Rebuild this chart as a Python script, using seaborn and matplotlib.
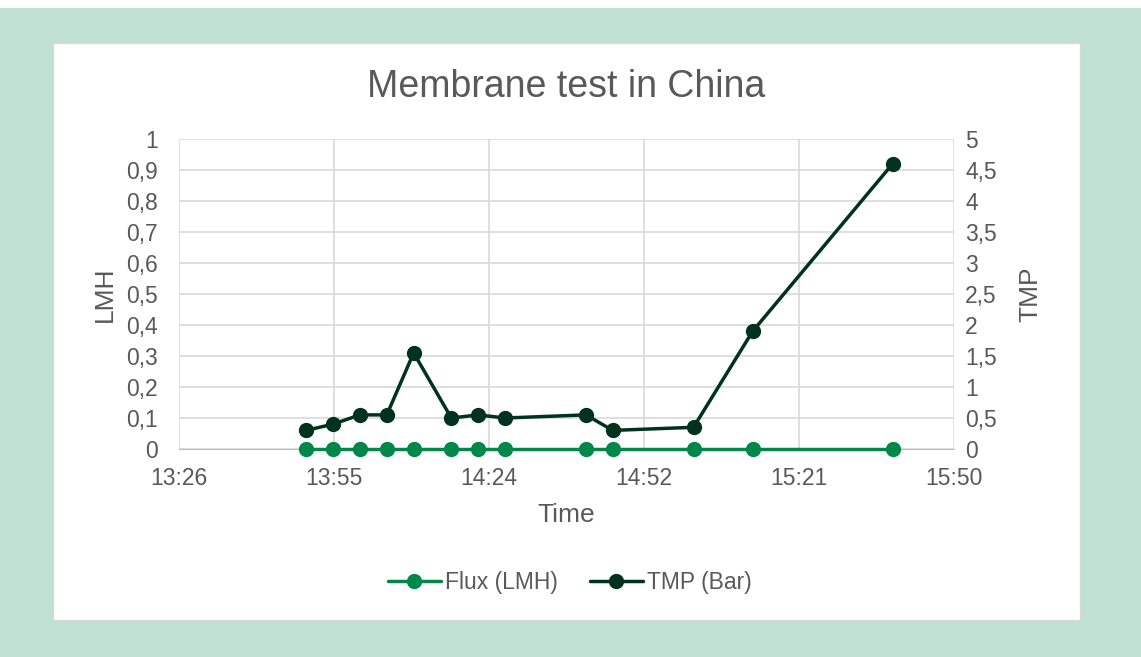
import matplotlib.pyplot as plt
import matplotlib.patches as mpatches
from matplotlib.lines import Line2D
import pandas as pd
import seaborn as sns

# Data
times = ['13:50', '13:55', '14:00', '14:05', '14:10', '14:17', '14:22', '14:27',
         '14:42', '14:47', '15:02', '15:13', '15:39']
flux = [0, 0, 0, 0, 0, 0, 0, 0, 0, 0, 0, 0, 0]
tmp = [0.3, 0.4, 0.55, 0.55, 1.55, 0.5, 0.55, 0.5, 0.55, 0.3, 0.35, 1.9, 4.6]
x_ticks = [0.56, 0.58, 0.60, 0.62, 0.64, 0.66]
x_ticklabels = ['13:26', '13:55', '14:24', '14:52', '15:21', '15:50']

def to_day(t):
    h, m = t.split(':')
    return (int(h) * 60 + int(m)) / 1440

df = pd.DataFrame({'day': [to_day(t) for t in times], 'flux': flux, 'tmp': tmp})

sns.set_style('white')
plt.rcParams['font.family'] = ['Liberation Sans', 'DejaVu Sans']
text_col = '#595959'
grid_col = '#D9D9D9'
flux_col = '#00884A'
tmp_col = '#00321F'

fig = plt.figure(figsize=(11.41, 6.57), dpi=100)
# outer green frame and white chart area
fig.patches.append(mpatches.Rectangle((0, 0), 1, 1 - 8 / 657, transform=fig.transFigure,
                                      facecolor='#BFE0D2', edgecolor='none', zorder=-10))
fig.patches.append(mpatches.Rectangle((53 / 1141, 1 - 620 / 657), 1027 / 1141, 577 / 657,
                                      transform=fig.transFigure, facecolor='white',
                                      edgecolor='#D9D9D9', linewidth=1, zorder=-9))

ax = fig.add_axes([179 / 1141, 1 - 449 / 657, 775 / 1141, 310 / 657])
ax.patch.set_alpha(0)
ax2 = ax.twinx()

sns.lineplot(data=df, x='day', y='flux', ax=ax, color=flux_col, marker='o',
             markersize=11, markeredgewidth=0, linewidth=2.5, zorder=3, clip_on=False)
sns.lineplot(data=df, x='day', y='tmp', ax=ax2, color=tmp_col, marker='o',
             markersize=11, markeredgewidth=0, linewidth=2.5, zorder=3, clip_on=False)

ax.set_xlim(0.56, 0.66)
ax.set_ylim(0, 1)
ax2.set_ylim(0, 5)
ax.set_xticks(x_ticks)
ax.set_xticklabels(x_ticklabels)
ax.set_yticks([i / 10 for i in range(11)])
ax.set_yticklabels([('%.1f' % (i / 10)).replace('.', ',') if i not in (0, 10) else str(i // 10)
                    for i in range(11)])
ax2.set_yticks([i / 2 for i in range(11)])
ax2.set_yticklabels([('%g' % (i / 2)).replace('.', ',') for i in range(11)])

ax.grid(True, color=grid_col, linewidth=1.2)
ax.set_axisbelow(True)
for a in (ax, ax2):
    for s in a.spines.values():
        s.set_visible(False)
    a.tick_params(length=0, labelsize=16.5, labelcolor=text_col)
ax.spines['bottom'].set_visible(True)
ax.spines['bottom'].set_color('#BFBFBF')
ax.tick_params(axis='y', pad=15)
ax.tick_params(axis='x', pad=13)
ax2.tick_params(axis='y', pad=8)

ax.set_xlabel('Time', fontsize=19, color=text_col)
ax.set_ylabel('LMH', fontsize=19, color=text_col)
ax2.set_ylabel('TMP', fontsize=19, color=text_col, rotation=90)
for lab in (ax.xaxis.label, ax.yaxis.label, ax2.yaxis.label):
    lab.set_va('center')
    lab.set_ha('center')
ax.xaxis.set_label_coords(0.5, (449 - 515) / 310)
ax.yaxis.set_label_coords((105 - 179) / 775, 0.5)
ax2.yaxis.set_label_coords((1030 - 179) / 775, 0.5)

fig.text(566 / 1141, 1 - 87 / 657, 'Membrane test in China', fontsize=27, color=text_col,
         ha='center', va='center')

handles = [Line2D([], [], color=flux_col, marker='o', markersize=11, markeredgewidth=0, linewidth=2.5),
           Line2D([], [], color=tmp_col, marker='o', markersize=11, markeredgewidth=0, linewidth=2.5)]
fig.legend(handles, ['Flux (LMH)', 'TMP (Bar)'], loc='center', ncol=2, frameon=False,
           bbox_to_anchor=(570 / 1141, 1 - 583 / 657), fontsize=16.5, labelcolor=text_col,
           handlelength=2.3, handletextpad=0.2, columnspacing=1.4)

fig.savefig('out.png', dpi=100)
